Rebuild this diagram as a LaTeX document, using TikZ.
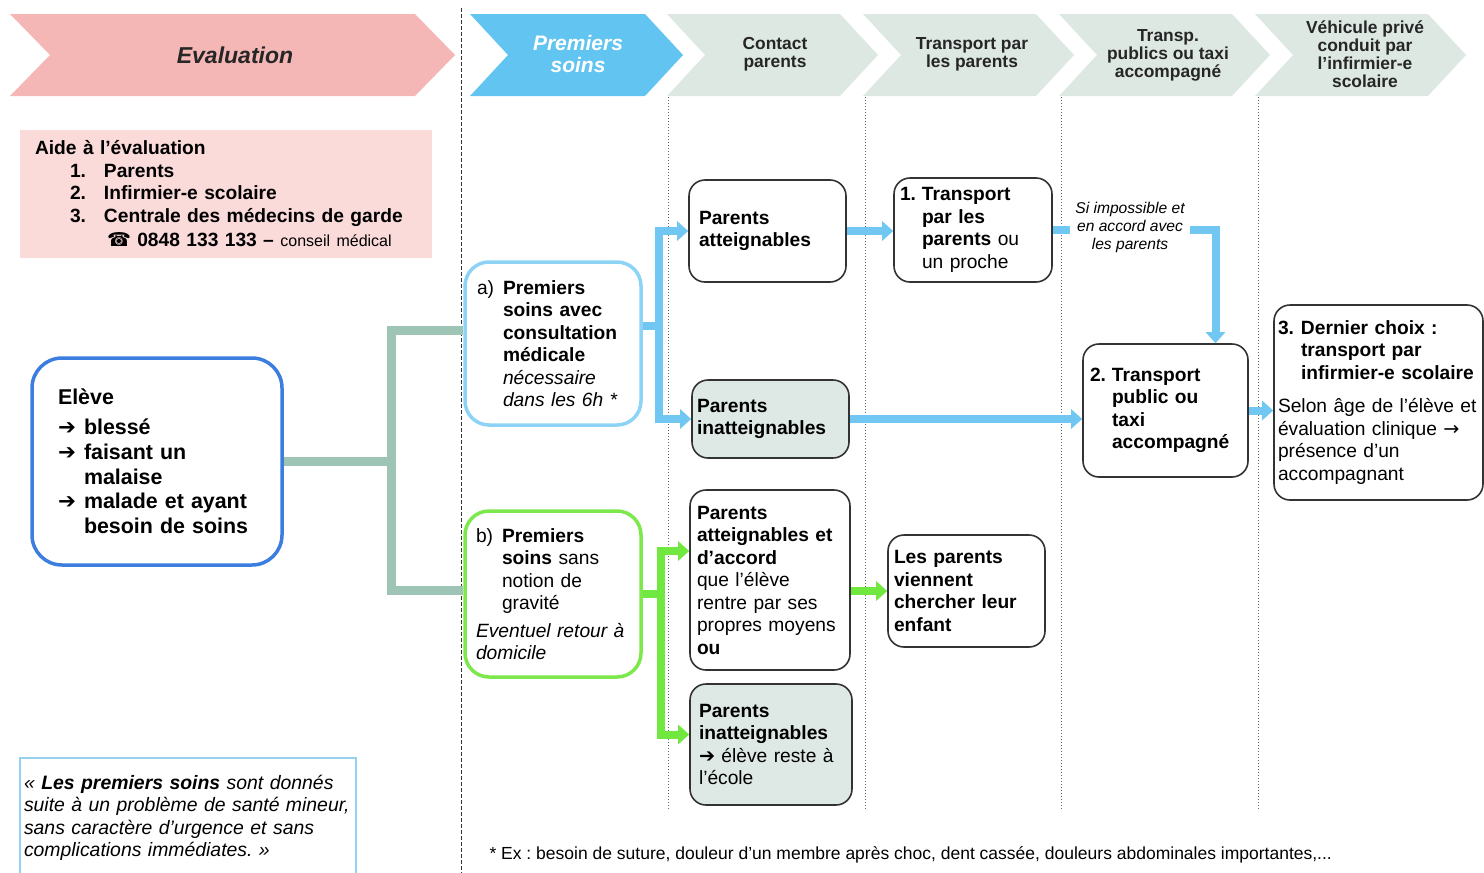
\documentclass[tikz,border=0pt]{standalone}
\usepackage{fontspec}
\setmainfont{Liberation Sans}
\newfontfamily\dejavu{DejaVu Sans}
\usetikzlibrary{arrows.meta}

\definecolor{evalpink}{RGB}{245,182,182}
\definecolor{aidepink}{RGB}{251,218,218}
\definecolor{soinsblue}{RGB}{98,196,240}
\definecolor{headgrey}{RGB}{221,232,226}
\definecolor{boxgrey}{RGB}{222,233,229}
\definecolor{elevblue}{RGB}{60,126,224}
\definecolor{ablue}{RGB}{140,211,245}
\definecolor{bgreen}{RGB}{124,232,76}
\definecolor{arrblue}{RGB}{112,199,242}
\definecolor{arrgreen}{RGB}{112,232,64}
\definecolor{trunkgrey}{RGB}{157,196,180}
\definecolor{quoteblue}{RGB}{150,210,240}

\newcommand{\numlbl}[2]{\makebox[#1][l]{#2}}

\begin{document}
\frenchspacing
\begin{tikzpicture}[x=1pt,y=-1pt,
        cardbox/.style={align=left,inner ysep=0pt,font=\fontsize{19.2}{22.5}\selectfont},
        whitecard/.style={cardbox,draw=black!80,line width=1.6pt,rounded corners=16pt,fill=white},
        greycard/.style={whitecard,fill=boxgrey},
        boldtext/.style={font=\bfseries\fontsize{19.2}{22.5}\selectfont},
        head/.style={align=center,text=black!85,font=\bfseries\fontsize{17.4}{18}\selectfont},
        blueline/.style={arrblue,line width=8pt},
        bluearr/.style={blueline,-{Triangle[width=19pt,length=11pt]}},
        greenline/.style={arrgreen,line width=8pt},
        greenarr/.style={greenline,-{Triangle[width=19pt,length=11pt]}},
        trunk/.style={trunkgrey,line width=9pt}]
        % fix the page size
        \useasboundingbox (0,0) rectangle (1484,873);

        % draw the header arrows
        \fill[evalpink] (10,14) -- (415,14) -- (455,55) -- (415,96) -- (10,96) -- (50,55) -- cycle;
        \fill[soinsblue] (470,14) -- (645,14) -- (683,55) -- (645,96) -- (470,96) -- (508,55) -- cycle;
        \foreach \x in {667,863,1059,1255} {
                \fill[headgrey] (\x,14) -- ++(173,0) -- ++(38,41) -- ++(-38,41) -- ++(-173,0) -- ++(38,-41) -- cycle;
        }
        \node[font=\bfseries\itshape\fontsize{23}{24}\selectfont,text=black!85] (hdEval) at (235,55) {Evaluation};
        \node[align=center,text=white,font=\bfseries\itshape\fontsize{21}{22}\selectfont] (hdSoins) at (578,54) {Premiers\\soins};
        \node[head] (hdContact) at (775,54) {Contact\\parents};
        \node[head] (hdParents) at (972,54) {Transport par\\les parents};
        \node[head] (hdPublic) at (1168,55) {Transp.\\publics ou taxi\\accompagné};
        \node[head] (hdInfirm) at (1365,54) {Véhicule privé\\conduit par\\l'infirmier-e\\scolaire};

        % separators between the columns
        \draw[black!80,line width=1pt,dash pattern=on 4pt off 2pt] (461,8) -- (461,873);
        \foreach \x in {668,865,1061,1258} {
                \draw[black!60,line width=1pt,dotted] (\x,97) -- (\x,810);
        }

        % left column
        \node[cardbox,boldtext,fill=aidepink,minimum width=412pt,minimum height=128pt,inner xsep=15pt,text width=382pt] (aide) at (226,194)
                {Aide à l’évaluation\\
                 \hspace*{35pt}\numlbl{34pt}{1.}Parents\\
                 \hspace*{35pt}\numlbl{34pt}{2.}Infirmier-e scolaire\\
                 \hspace*{35pt}\numlbl{34pt}{3.}Centrale des médecins de garde\\[2pt]
                 \hspace*{72pt}{\dejavu ☎} 0848 133 133 – {\mdseries\fontsize{16}{18}\selectfont conseil médical}};
        \node[cardbox,draw=elevblue,line width=3.5pt,rounded corners=30pt,minimum width=250pt,minimum height=207pt,inner xsep=26pt,text width=198pt,
              font=\bfseries\fontsize{21.4}{24.7}\selectfont] (eleve) at (157,461.5)
                {Elève\\[5pt]
                 \numlbl{26pt}{\dejavu ➔}blessé\\
                 \numlbl{26pt}{\dejavu ➔}faisant un\\
                 \hspace*{26pt}malaise\\
                 \numlbl{26pt}{\dejavu ➔}malade et ayant\\
                 \hspace*{26pt}besoin de soins};
        \node[cardbox,draw=quoteblue,line width=1.2pt,minimum width=336pt,minimum height=120pt,inner xsep=4pt,text width=328pt,
              font=\itshape\fontsize{19.4}{22.3}\selectfont] (quote) at (188,818)
                {« \textbf{Les premiers soins} sont donnés\\
                 suite à un problème de santé mineur,\\
                 sans caractère d’urgence et sans\\
                 complications immédiates. »};

        % first aid boxes
        \node[cardbox,draw=ablue,line width=3.5pt,rounded corners=24pt,fill=white,minimum width=176pt,minimum height=163pt,inner xsep=12pt,text width=152pt] (aBox) at (553,343.5)
                {\numlbl{26pt}{a)}\textbf{Premiers}\\
                 \hspace*{26pt}\textbf{soins avec}\\
                 \hspace*{26pt}\textbf{consultation}\\
                 \hspace*{26pt}\textbf{médicale}\\
                 \hspace*{26pt}\textit{nécessaire}\\
                 \hspace*{26pt}\textit{dans les 6h *}};
        \node[cardbox,draw=bgreen,line width=3.5pt,rounded corners=24pt,fill=white,minimum width=176pt,minimum height=166pt,inner xsep=11pt,text width=154pt] (bBox) at (553,594)
                {\numlbl{26pt}{b)}\textbf{Premiers}\\
                 \hspace*{26pt}\textbf{soins} sans\\
                 \hspace*{26pt}notion de\\
                 \hspace*{26pt}gravité\\[5pt]
                 \textit{Eventuel retour à}\\
                 \textit{domicile}};

        % contact with the parents
        \node[whitecard,boldtext,minimum width=157pt,minimum height=102pt,inner xsep=10pt,text width=137pt] (pAtt) at (767.5,231)
                {Parents\\atteignables};
        \node[greycard,boldtext,minimum width=157pt,minimum height=78pt,inner xsep=5pt,text width=147pt] (pInatt) at (770.5,419)
                {Parents\\inatteignables};
        \node[whitecard,minimum width=160pt,minimum height=180pt,inner xsep=7pt,text width=146pt] (pAcc) at (770,580)
                {\textbf{Parents}\\
                 \textbf{atteignables et}\\
                 \textbf{d’accord}\\
                 que l’élève\\
                 rentre par ses\\
                 propres moyens\\
                 \textbf{ou}};
        \node[greycard,minimum width=162pt,minimum height=121pt,inner xsep=9pt,text width=144pt] (pEcole) at (771,744.5)
                {\textbf{Parents}\\
                 \textbf{inatteignables}\\
                 {\dejavu\bfseries ➔} élève reste à\\
                 l’école};

        % transport
        \node[whitecard,minimum width=158pt,minimum height=104pt,inner xsep=6pt,text width=146pt] (t1) at (973,230)
                {\numlbl{22pt}{\textbf{1.}}\textbf{Transport}\\
                 \hspace*{22pt}\textbf{par les}\\
                 \hspace*{22pt}\textbf{parents} ou\\
                 \hspace*{22pt}un proche};
        \node[whitecard,boldtext,minimum width=157pt,minimum height=112pt,inner xsep=6pt,text width=145pt] (vien) at (966.5,591)
                {Les parents\\viennent\\chercher leur\\enfant};
        \node[whitecard,boldtext,minimum width=165pt,minimum height=133pt,inner xsep=7pt,text width=151pt] (t2) at (1165.5,410.5)
                {\numlbl{22pt}{2.}Transport\\
                 \hspace*{22pt}public ou\\
                 \hspace*{22pt}taxi\\
                 \hspace*{22pt}accompagné};
        \node[whitecard,minimum width=209pt,minimum height=195pt,inner xsep=4pt,text width=201pt] (t3) at (1378.5,402.5)
                {\textbf{\numlbl{23pt}{3.}Dernier choix :}\\
                 \hspace*{23pt}\textbf{transport par}\\
                 \hspace*{23pt}\textbf{infirmier-e scolaire}\\[11pt]
                 Selon âge de l’élève et\\
                 évaluation clinique {\dejavu →}\\
                 présence d’un\\
                 accompagnant};

        % connectors from the pupil
        \path (eleve.east) ++(108,0) coordinate (split);
        \draw[trunk] (eleve.east) -- (split);
        \draw[trunk] ([yshift=13pt]aBox.west) -| (split) |- ([yshift=4pt]bBox.west);

        % blue way
        \path ([yshift=18pt]aBox.east) ++(16,0) coordinate (aFork);
        \draw[blueline] ([yshift=18pt]aBox.east) -- (aFork);
        \draw[bluearr] (aFork) |- (pAtt.west);
        \draw[bluearr] (aFork) |- (pInatt.west);
        \draw[bluearr] (pAtt.east) -- (pAtt.east -| t1.west);
        \draw[bluearr] (t1.east) -| ([xshift=50pt]t2.north);
        \draw[bluearr] (pInatt.east) -- (pInatt.east -| t2.west);
        \draw[bluearr] (t2.east) -- (t2.east -| t3.west);

        % green way
        \path (bBox.east) ++(18,0) coordinate (bFork);
        \draw[greenline] (bBox.east) -- (bFork);
        \draw[greenarr] (bFork) |- ([yshift=29pt]pAcc.west);
        \draw[greenarr] (bFork) |- ([yshift=10pt]pEcole.west);
        \draw[greenarr] (vien.west -| pAcc.east) -- (vien.west);

        % label on the blue way
        \node[fill=white,align=center,inner xsep=5pt,inner ysep=1pt,font=\itshape\fontsize{15.6}{18}\selectfont] (siLbl) at (1130,227)
                {Si impossible et\\en accord avec\\les parents};

        % footnote
        \node[anchor=west,font=\fontsize{17.5}{19}\selectfont] (note) at (486,855)
                {* Ex : besoin de suture, douleur d’un membre après choc, dent cassée, douleurs abdominales importantes,...};
\end{tikzpicture}
\end{document}
